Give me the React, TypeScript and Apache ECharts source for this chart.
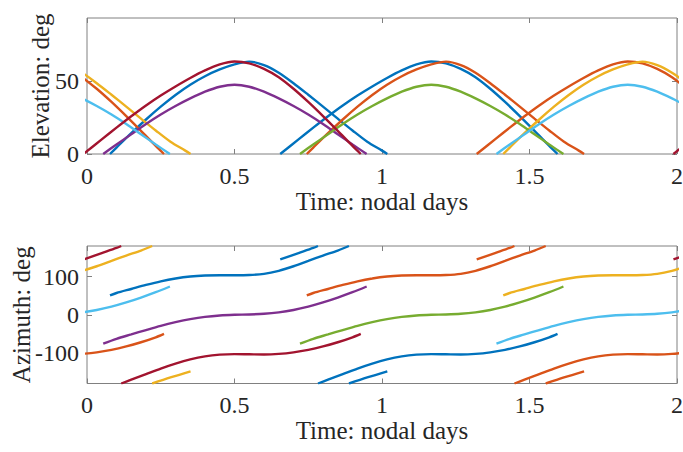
import React, { useEffect, useRef } from "react";
import * as echarts from "echarts";

// Axis ticks
const timeTicks = [0, 0.5, 1, 1.5, 2];
const elevTicks = [0, 50];
const azTicks = [-100, 0, 100];

// Satellite colours (MATLAB default order)
const satColors = ["#0072BD", "#D95319", "#EDB120", "#7E2F8E", "#77AC30", "#4DBEEE", "#A2142F"];

// Elevation passes, [time (nodal days), elevation (deg)]
const elBlue1 = [[0.078,0],[0.1,4.4],[0.15,14.2],[0.2,23.6],[0.25,32.4],[0.3,40.4],[0.35,47.4],[0.4,53.2],[0.45,57.8],[0.5,61.3],[0.55,63.2],[0.6,60.8],[0.65,55.6],[0.7,48.4],[0.75,40.5],[0.8,32.4],[0.85,24.2],[0.9,16.1],[0.95,8.4],[1.0,2.3],[1.018,0]];
const elBlue2 = [[0.655,0],[0.717,10],[0.767,18],[0.817,25.8],[0.867,33.2],[0.917,40],[0.967,46.2],[1.017,52],[1.067,57.2],[1.117,61.3],[1.167,63.3],[1.217,62],[1.267,58.2],[1.317,52.5],[1.367,44.6],[1.417,35.6],[1.467,25.9],[1.517,15.8],[1.567,5.5],[1.595,0]];
const elOrange1 = [[-0.117,62],[-0.067,58.2],[-0.017,52.5],[0.033,44.6],[0.083,35.6],[0.133,25.9],[0.183,15.8],[0.233,5.5],[0.261,0]];
const elOrange2 = [[0.745,0],[0.767,4.4],[0.817,14.2],[0.867,23.6],[0.917,32.4],[0.967,40.4],[1.017,47.4],[1.067,53.2],[1.117,57.8],[1.167,61.3],[1.217,63.2],[1.267,60.8],[1.317,55.6],[1.367,48.4],[1.417,40.5],[1.467,32.4],[1.517,24.2],[1.567,16.1],[1.617,8.4],[1.667,2.3],[1.685,0]];
const elOrange3 = [[1.321,0],[1.383,10],[1.433,18],[1.483,25.8],[1.533,33.2],[1.583,40],[1.633,46.2],[1.683,52],[1.733,57.2],[1.783,61.3],[1.833,63.3],[1.883,62],[1.933,58.2],[1.983,52.5],[2.033,44.6]];
const elYellow1 = [[-0.117,63.2],[-0.067,60.8],[-0.017,55.6],[0.033,48.4],[0.083,40.5],[0.133,32.4],[0.183,24.2],[0.233,16.1],[0.283,8.4],[0.333,2.3],[0.351,0]];
const elYellow2 = [[1.411,0],[1.433,4.4],[1.483,14.2],[1.533,23.6],[1.583,32.4],[1.633,40.4],[1.683,47.4],[1.733,53.2],[1.783,57.8],[1.833,61.3],[1.883,63.2],[1.933,60.8],[1.983,55.6],[2.033,48.4]];
const elPurple = [[0.055,0],[0.1,6.5],[0.15,13.5],[0.2,20.5],[0.25,27],[0.3,32.8],[0.35,38],[0.4,42.6],[0.45,46],[0.5,47.4],[0.55,46],[0.6,42.6],[0.65,38],[0.7,32.8],[0.75,27],[0.8,20.5],[0.85,13.5],[0.9,6.5],[0.948,0]];
const elGreen = [[0.722,0],[0.767,6.5],[0.817,13.5],[0.867,20.5],[0.917,27],[0.967,32.8],[1.017,38],[1.067,42.6],[1.117,46],[1.167,47.4],[1.217,46],[1.267,42.6],[1.317,38],[1.367,32.8],[1.417,27],[1.467,20.5],[1.517,13.5],[1.567,6.5],[1.615,0]];
const elLightBlue1 = [[-0.067,42.6],[-0.017,38],[0.033,32.8],[0.083,27],[0.133,20.5],[0.183,13.5],[0.233,6.5],[0.281,0]];
const elLightBlue2 = [[1.388,0],[1.433,6.5],[1.483,13.5],[1.533,20.5],[1.583,27],[1.633,32.8],[1.683,38],[1.733,42.6],[1.783,46],[1.833,47.4],[1.883,46],[1.933,42.6],[1.983,38],[2.033,32.8]];
const elRed1 = [[-0.012,0],[0.05,10],[0.1,18],[0.15,25.8],[0.2,33.2],[0.25,40],[0.3,46.2],[0.35,52],[0.4,57.2],[0.45,61.3],[0.5,63.3],[0.55,62],[0.6,58.2],[0.65,52.5],[0.7,44.6],[0.75,35.6],[0.8,25.9],[0.85,15.8],[0.9,5.5],[0.928,0]];
const elRed2 = [[1.988,0],[2.05,10]];

// Azimuth tracks, [time (nodal days), azimuth (deg)], split where they wrap at ±180
const azBlue1Top = [[0.078,50.6],[0.1,57],[0.15,67.5],[0.2,78],[0.25,87.5],[0.3,95],[0.35,100.2],[0.4,102.8],[0.45,103.6],[0.5,103.5],[0.55,104],[0.6,107],[0.65,115],[0.7,127],[0.75,141],[0.8,155],[0.85,168.2],[0.888,180]];
const azBlue1Bot = [[0.888,-180],[0.95,-164],[1.018,-148]];
const azBlue2Top = [[0.655,144.7],[0.717,161.5],[0.767,175],[0.783,180]];
const azBlue2Bot = [[0.783,-180],[0.817,-170],[0.867,-155.5],[0.917,-141],[0.967,-128],[1.017,-117],[1.067,-109],[1.117,-104.5],[1.167,-103],[1.217,-103.5],[1.267,-104],[1.317,-102.5],[1.367,-98.5],[1.417,-92],[1.467,-83],[1.517,-72],[1.567,-59],[1.595,-50]];
const azOrange1Bot = [[-0.117,-103.5],[-0.067,-104],[-0.017,-102.5],[0.033,-98.5],[0.083,-92],[0.133,-83],[0.183,-72],[0.233,-59],[0.261,-50]];
const azOrange2Top = [[0.745,50.6],[0.767,57],[0.817,67.5],[0.867,78],[0.917,87.5],[0.967,95],[1.017,100.2],[1.067,102.8],[1.117,103.6],[1.167,103.5],[1.217,104],[1.267,107],[1.317,115],[1.367,127],[1.417,141],[1.467,155],[1.517,168.2],[1.555,180]];
const azOrange2Bot = [[1.555,-180],[1.617,-164],[1.685,-148]];
const azOrange3Top = [[1.321,144.7],[1.383,161.5],[1.433,175],[1.449,180]];
const azOrange3Bot = [[1.449,-180],[1.483,-170],[1.533,-155.5],[1.583,-141],[1.633,-128],[1.683,-117],[1.733,-109],[1.783,-104.5],[1.833,-103],[1.883,-103.5],[1.933,-104],[1.983,-102.5],[2.033,-98.5]];
const azYellow1Top = [[-0.067,107],[-0.017,115],[0.033,127],[0.083,141],[0.133,155],[0.183,168.2],[0.221,180]];
const azYellow1Bot = [[0.221,-180],[0.283,-164],[0.351,-148]];
const azYellow2Top = [[1.411,50.6],[1.433,57],[1.483,67.5],[1.533,78],[1.583,87.5],[1.633,95],[1.683,100.2],[1.733,102.8],[1.783,103.6],[1.833,103.5],[1.883,104],[1.933,107],[1.983,115],[2.033,127]];
const azPurple = [[0.055,-75.7],[0.1,-63],[0.15,-51.5],[0.2,-40],[0.25,-29],[0.3,-19.5],[0.35,-11.5],[0.4,-5.5],[0.45,-1.8],[0.5,0],[0.55,0.8],[0.6,2.5],[0.65,6.3],[0.7,12.5],[0.75,21.3],[0.8,32.3],[0.85,45],[0.9,59],[0.948,74]];
const azGreen = [[0.722,-75.7],[0.767,-63],[0.817,-51.5],[0.867,-40],[0.917,-29],[0.967,-19.5],[1.017,-11.5],[1.067,-5.5],[1.117,-1.8],[1.167,0],[1.217,0.8],[1.267,2.5],[1.317,6.3],[1.367,12.5],[1.417,21.3],[1.467,32.3],[1.517,45],[1.567,59],[1.615,74]];
const azLightBlue1 = [[-0.067,2.5],[-0.017,6.3],[0.033,12.5],[0.083,21.3],[0.133,32.3],[0.183,45],[0.233,59],[0.281,74]];
const azLightBlue2 = [[1.388,-75.7],[1.433,-63],[1.483,-51.5],[1.533,-40],[1.583,-29],[1.633,-19.5],[1.683,-11.5],[1.733,-5.5],[1.783,-1.8],[1.833,0],[1.883,0.8],[1.933,2.5],[1.983,6.3],[2.033,12.5]];
const azRed1Top = [[-0.012,144.7],[0.05,161.5],[0.1,175],[0.116,180]];
const azRed1Bot = [[0.116,-180],[0.15,-170],[0.2,-155.5],[0.25,-141],[0.3,-128],[0.35,-117],[0.4,-109],[0.45,-104.5],[0.5,-103],[0.55,-103.5],[0.6,-104],[0.65,-102.5],[0.7,-98.5],[0.75,-92],[0.8,-83],[0.85,-72],[0.9,-59],[0.928,-50]];
const azRed2Top = [[1.988,144.7],[2.05,161.5]];

// Per satellite: elevation passes and azimuth pieces
const elevBySat = [
  [elBlue1, elBlue2],
  [elOrange1, elOrange2, elOrange3],
  [elYellow1, elYellow2],
  [elPurple],
  [elGreen],
  [elLightBlue1, elLightBlue2],
  [elRed1, elRed2],
];
const azBySat = [
  [azBlue1Top, azBlue1Bot, azBlue2Top, azBlue2Bot],
  [azOrange1Bot, azOrange2Top, azOrange2Bot, azOrange3Top, azOrange3Bot],
  [azYellow1Top, azYellow1Bot, azYellow2Top],
  [azPurple],
  [azGreen],
  [azLightBlue1, azLightBlue2],
  [azRed1Top, azRed1Bot, azRed2Top],
];

const FONT = '"Liberation Serif", "Times New Roman", Times, serif';
const TEXT = "#262626";
const BOX = "#808080";

export default function App() {
  const ref = useRef<HTMLDivElement>(null);

  useEffect(() => {
    if (!ref.current) return;
    const chart = echarts.init(ref.current, undefined, { renderer: "svg" });

    const tickStyle = { inside: true, length: 5, lineStyle: { color: BOX, width: 1 } };
    const labelStyle = { fontFamily: FONT, fontSize: 24, color: TEXT };
    const nameStyle = { fontFamily: FONT, fontSize: 25, color: TEXT };

    const timeAxis = (
      gridIndex: number,
      position: string,
      withLabels: boolean,
      margin: number,
      nameGap: number
    ) => ({
      type: "value",
      gridIndex,
      position,
      min: 0,
      max: 2,
      interval: 0.5,
      axisLine: { show: false, onZero: false },
      axisTick: { ...tickStyle, customValues: timeTicks },
      axisLabel: withLabels
        ? { ...labelStyle, margin, customValues: timeTicks, formatter: (v: number) => String(v) }
        : { show: false },
      splitLine: { show: false },
      name: withLabels ? "Time: nodal days" : "",
      nameLocation: "middle",
      nameGap,
      nameMoveOverlap: false,
      nameTextStyle: nameStyle,
    });

    const valueAxis = (
      gridIndex: number,
      position: string,
      min: number,
      max: number,
      ticks: number[],
      name: string,
      nameGap: number
    ) => ({
      type: "value",
      gridIndex,
      position,
      min,
      max,
      axisLine: { show: false, onZero: false },
      axisTick: { ...tickStyle, customValues: ticks },
      axisLabel: name
        ? {
            ...labelStyle,
            margin: 8,
            customValues: ticks,
            formatter: (v: number) => (ticks.includes(v) ? String(v) : ""),
          }
        : { show: false },
      splitLine: { show: false },
      name,
      nameLocation: "middle",
      nameGap,
      nameMoveOverlap: false,
      nameTextStyle: nameStyle,
    });

    const lineSeries = (data: number[][], i: number, axis: number) => ({
      type: "line",
      xAxisIndex: axis,
      yAxisIndex: axis,
      data,
      smooth: 0.3,
      showSymbol: false,
      clip: true,
      lineStyle: { color: satColors[i], width: 2.4 },
      z: 2 + i,
    });

    const series: any[] = [];
    elevBySat.forEach((passes, i) => passes.forEach((d) => series.push(lineSeries(d, i, 0))));
    azBySat.forEach((pieces, i) => pieces.forEach((d) => series.push(lineSeries(d, i, 2))));

    const gridBase = {
      left: 87,
      width: 590,
      show: true,
      borderColor: BOX,
      borderWidth: 1,
      backgroundColor: "transparent",
      containLabel: false,
      outerBoundsMode: "none",
    };

    chart.setOption({
      animation: false,
      backgroundColor: "#ffffff",
      grid: [
        { ...gridBase, top: 18, height: 136 },
        { ...gridBase, top: 246, height: 137.5 },
      ],
      xAxis: [
        timeAxis(0, "bottom", true, 10, 35),
        timeAxis(0, "top", false, 0, 0),
        timeAxis(1, "bottom", true, 9, 34),
        timeAxis(1, "top", false, 0, 0),
      ],
      yAxis: [
        valueAxis(0, "left", 0, 93, elevTicks, "Elevation: deg", 34),
        valueAxis(0, "right", 0, 93, elevTicks, "", 0),
        valueAxis(1, "left", -180, 180, azTicks, "Azimuth: deg", 53),
        valueAxis(1, "right", -180, 180, azTicks, "", 0),
      ],
      series,
    });

    return () => chart.dispose();
  }, []);

  return (
    <div
      ref={ref}
      style={{ position: "fixed", left: 0, top: 0, width: 683, height: 452, background: "#fff" }}
    />
  );
}
